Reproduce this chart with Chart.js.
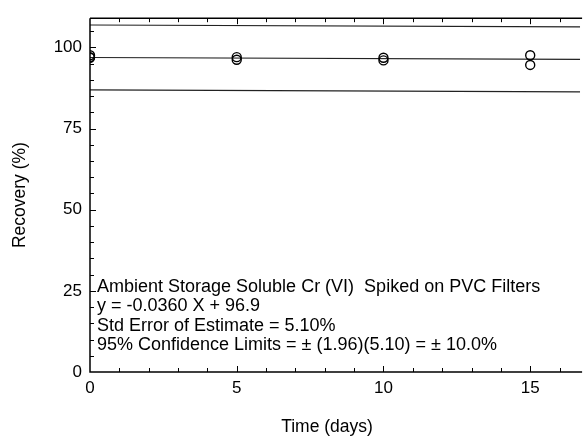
<!DOCTYPE html>
<html>
<head>
<meta charset="utf-8">
<script src="https://cdn.jsdelivr.net/npm/chart.js@4/dist/chart.umd.min.js"></script>
<style>
    html, body { margin: 0; padding: 0; background: #fff; }
    #wrap { width: 586px; height: 437px; }
</style>
</head>
<body>
<div id="wrap"><canvas id="recoveryChart"></canvas></div>
<script>
const sampleDays = [0, 0, 0, 5, 5, 10, 10, 15, 15];
const sampleRecovery = [97.0, 97.6, 96.8, 97.0, 96.2, 96.8, 96.0, 97.6, 94.6];

// regression line and 95% limits, end points
const lineDays = [0, 16.7];
const fitValues = [96.9, 96.3];
const upperValues = [106.9, 106.3];
const lowerValues = [86.9, 86.3];

const xTickValues = [0, 5, 10, 15];
const yTickValues = [0, 25, 50, 75, 100];

const noteLines = [
    'Ambient Storage Soluble Cr (VI)  Spiked on PVC Filters',
    'y = -0.0360 X + 96.9',
    'Std Error of Estimate = 5.10%',
    '95% Confidence Limits = \u00b1 (1.96)(5.10) = \u00b1 10.0%'
];

const FONT = '"Liberation Sans", Arial, sans-serif';

function toPoints(xs, ys) {
    return xs.map((x, i) => ({ x: x, y: ys[i] }));
}

function lineSet(values) {
    return {
        data: toPoints(lineDays, values),
        showLine: true,
        borderColor: '#222',
        borderWidth: 1.2,
        pointRadius: 0,
        fill: false
    };
}

// frame, inward minor ticks, x title and the note text
const framePlugin = {
    id: 'frame',
    afterDatasetsDraw(chart) {
        const { ctx, chartArea, scales } = chart;
        const xs = scales.x, ys = scales.y;
        ctx.save();
        ctx.strokeStyle = '#000';
        ctx.lineWidth = 1.5;
        ctx.beginPath();
        ctx.moveTo(chartArea.left, chartArea.top);
        ctx.lineTo(chartArea.right + 2, chartArea.top);
        ctx.moveTo(chartArea.left, chartArea.top);
        ctx.lineTo(chartArea.left, chartArea.bottom);
        ctx.lineTo(chartArea.right + 2, chartArea.bottom);
        ctx.stroke();

        ctx.lineWidth = 1;
        ctx.beginPath();
        for (let d = 1; d <= 16; d++) {
            const px = Math.round(xs.getPixelForValue(d)) + 0.5;
            const len = d % 5 === 0 ? 6 : 4;
            ctx.moveTo(px, chartArea.bottom);
            ctx.lineTo(px, chartArea.bottom - len);
            ctx.moveTo(px, chartArea.top);
            ctx.lineTo(px, chartArea.top + len);
        }
        for (let v = 5; v <= 105; v += 5) {
            const py = Math.round(ys.getPixelForValue(v)) + 0.5;
            const len = v % 25 === 0 ? 6 : 4;
            ctx.moveTo(chartArea.left, py);
            ctx.lineTo(chartArea.left + len, py);
        }
        ctx.stroke();

        ctx.fillStyle = '#000';
        ctx.textBaseline = 'middle';
        ctx.textAlign = 'center';
        ctx.font = '17.5px ' + FONT;
        ctx.fillText('Time (days)', 327, 427);

        ctx.font = '18px ' + FONT;
        ctx.textAlign = 'left';
        noteLines.forEach((t, i) => {
            ctx.fillText(t, chartArea.left + 7, 287 + i * 19.5);
        });
        ctx.restore();
    }
};

new Chart(document.getElementById('recoveryChart').getContext('2d'), {
    type: 'scatter',
    data: {
        datasets: [
            {
                data: toPoints(sampleDays, sampleRecovery),
                pointStyle: 'circle',
                pointRadius: 4.5,
                pointBorderWidth: 1.4,
                pointBorderColor: '#000',
                pointBackgroundColor: 'rgba(0,0,0,0)',
                showLine: false
            },
            lineSet(fitValues),
            lineSet(upperValues),
            lineSet(lowerValues)
        ]
    },
    options: {
        responsive: true,
        maintainAspectRatio: false,
        animation: false,
        layout: { padding: { top: 12, right: 0, left: 0, bottom: 0 } },
        plugins: {
            legend: { display: false },
            tooltip: { enabled: false }
        },
        scales: {
            x: {
                type: 'linear',
                min: 0,
                max: 16.7,
                afterFit(scale) { scale.height = 65; },
                afterBuildTicks(scale) { scale.ticks = xTickValues.map(v => ({ value: v })); },
                grid: { display: false, drawTicks: false },
                border: { display: false },
                ticks: { color: '#000', padding: 6, font: { family: FONT, size: 17 } },
                title: { display: false }
            },
            y: {
                min: 0,
                max: 109,
                afterFit(scale) { scale.width = 90; },
                afterBuildTicks(scale) { scale.ticks = yTickValues.map(v => ({ value: v })); },
                grid: { display: false, drawTicks: false },
                border: { display: false },
                ticks: { color: '#000', padding: 8, font: { family: FONT, size: 17 } },
                title: {
                    display: true,
                    text: 'Recovery (%)',
                    color: '#000',
                    padding: { top: 10, bottom: 0 },
                    font: { family: FONT, size: 17.5 }
                }
            }
        }
    },
    plugins: [framePlugin]
});
</script>
</body>
</html>
